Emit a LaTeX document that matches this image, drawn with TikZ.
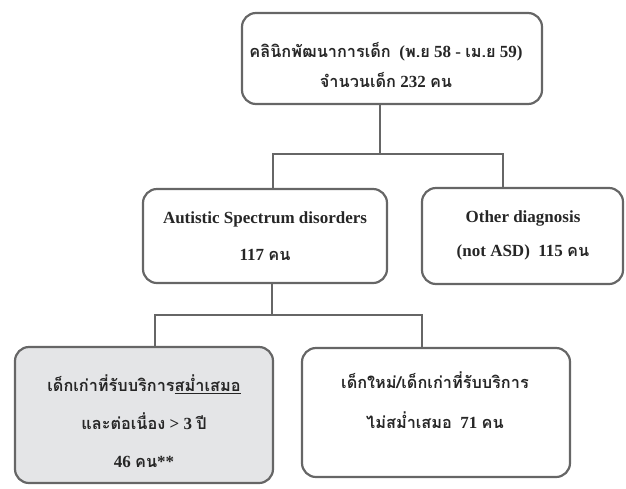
\documentclass[tikz,border=0pt]{standalone}
\usepackage{fontspec}
\setmainfont{Liberation Serif}
\newfontfamily\thaifont[Script=Thai, Extension=.otf, UprightFont=*, BoldFont=*-Bold]{Loma}
\usetikzlibrary{positioning}
\newcommand{\thtxt}[1]{{\thaifont\fontsize{16.3}{20}\selectfont #1}}
\definecolor{boxline}{HTML}{666666}
\definecolor{boxgrey}{HTML}{E4E5E7}
\tikzset{
    %Define style for boxes
    punktrect/.style={
           rectangle,
           rounded corners=14pt,
           draw=boxline, line width=2.2pt,
           inner sep=0pt},
    punktgrey/.style={
           punktrect,
           fill=boxgrey},
    %Define style for texts
    tekst/.style={
           font=\bfseries\fontsize{17}{20}\selectfont,
           text=black!85,
           align=center,
           inner sep=0pt},
    % Define line style
    pil/.style={
           draw=boxline,
           line width=1.8pt}
}

\begin{document}
\begin{tikzpicture}[x=1pt,y=-1pt]
\useasboundingbox (0,0) rectangle (626,488);
% boxes
\node[punktrect, minimum width=300pt, minimum height=91pt] (clinic) at (392,58.5) {};
\node[punktrect, minimum width=244pt, minimum height=94pt] (asd) at (265,236) {};
\node[punktrect, minimum width=201pt, minimum height=96pt] (other) at (522.5,236) {};
\node[punktgrey, minimum width=258pt, minimum height=136pt] (regular) at (144,415) {};
\node[punktrect, minimum width=268pt, minimum height=129pt] (irregular) at (436,412.5) {};
% texts
\node[tekst] (clinictxt) at (386,65) {\thtxt{คลินิกพัฒนาการเด็ก}\ \ (\thtxt{พ.ย} 58 - \thtxt{เม.ย} 59)\\[10pt]
  \thtxt{จำนวนเด็ก} 232 \thtxt{คน}};
\node[tekst] (asdtxt) at (265,236.5) {Autistic Spectrum disorders\\[17pt] 117 \thtxt{คน}};
\node[tekst] (othertxt) at (523,235) {Other diagnosis\\[14pt] (not ASD)\ \ 115 \thtxt{คน}};
\node[tekst] (regulartxt) at (144,421) {\thtxt{เด็กเก่าที่รับบริการ\underline{สม่ำเสมอ}}\\[18pt]
  \thtxt{และต่อเนื่อง} > 3 \thtxt{ปี}\\[18pt] 46 \thtxt{คน}**};
\node[tekst] (irregulartxt) at (435,400) {\thtxt{เด็กใหม่/เด็กเก่าที่รับบริการ}\\[20pt]
  \thtxt{ไม่สม่ำเสมอ}\ \ 71 \thtxt{คน}};
% connectors
\coordinate (split1) at (380,154);
\coordinate (split1l) at (273,154);
\coordinate (split1r) at (503,154);
\coordinate (split2) at (272,315);
\coordinate (split2l) at (155,315);
\coordinate (split2r) at (422,315);
\draw[pil] (clinic.south -| split1) -- (split1);
\draw[pil] (asd.north -| split1l) -- (split1l) -- (split1r) -- (other.north -| split1r);
\draw[pil] (asd.south -| split2) -- (split2);
\draw[pil] (regular.north -| split2l) -- (split2l) -- (split2r) -- (irregular.north -| split2r);
\end{tikzpicture}
\end{document}
